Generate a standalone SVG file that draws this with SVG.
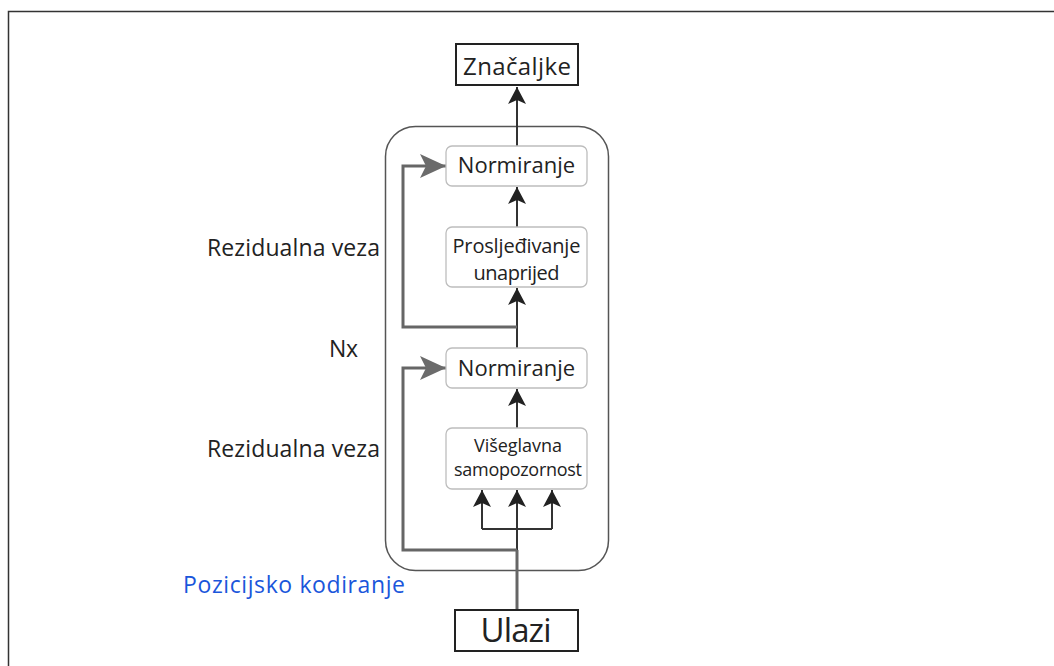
<svg xmlns="http://www.w3.org/2000/svg" width="1054" height="666" viewBox="0 0 1054 666">
  <style>
    text { font-family: "Open Sans", "Noto Sans", sans-serif; fill: #222; }
    .frame { fill: none; stroke: #333; stroke-width: 1.5; }
    .io { fill: #fff; stroke: #222; stroke-width: 2; }
    .blk { fill: #fff; stroke: #bdbdbd; stroke-width: 1.3; }
    .stack { fill: none; stroke: #555; stroke-width: 1.5; }
    .flow { fill: none; stroke: #333; stroke-width: 2; }
    .res { fill: none; stroke: #666; stroke-width: 3; }
    .lbl { font-size: 23px; }
    .blue { fill: #1a56db; }
  </style>
  <defs>
    <marker id="ah" viewBox="0 0 17 18" refX="17" refY="9" markerWidth="17" markerHeight="18" markerUnits="userSpaceOnUse" orient="auto">
      <path d="M0,0 L17,9 L0,18 L4,9 Z" fill="#222"/>
    </marker>
    <marker id="ahg" viewBox="0 0 26 24" refX="26" refY="12" markerWidth="26" markerHeight="24" markerUnits="userSpaceOnUse" orient="auto">
      <path d="M0,0 L26,12 L0,24 L6,12 Z" fill="#6b6b6b"/>
    </marker>
  </defs>

  <!-- page frame -->
  <path class="frame" d="M8.5,666 V11.5 H1054"/>

  <!-- repeated encoder stack -->
  <rect id="stack" class="stack" x="385.5" y="126.5" width="223" height="444" rx="30"/>

  <!-- connectors -->
  <g id="connectors">
    <path class="flow" d="M517,146 V87" marker-end="url(#ah)"/>
    <path class="flow" d="M517,227 V187" marker-end="url(#ah)"/>
    <path class="flow" d="M517,348 V288" marker-end="url(#ah)"/>
    <path class="flow" d="M517,428 V389" marker-end="url(#ah)"/>
    <path class="flow" d="M482,529 H552"/>
    <path class="flow" d="M482,529 V490" marker-end="url(#ah)"/>
    <path class="flow" d="M517,550 V490" marker-end="url(#ah)"/>
    <path class="flow" d="M552,529 V490" marker-end="url(#ah)"/>
    <path class="res" d="M517,610 V550"/>
    <path class="res" d="M517,550 H403 V368 H446" marker-end="url(#ahg)"/>
    <path class="res" d="M517,327 H403 V166 H446" marker-end="url(#ahg)"/>
  </g>

  <g id="features">
    <rect class="io" x="456" y="44" width="122" height="41"/>
    <text x="517" y="75" font-size="24" text-anchor="middle" textLength="108">Značaljke</text>
  </g>

  <g id="norm2">
    <rect class="blk" x="446" y="146" width="141" height="40" rx="6"/>
    <text x="516.5" y="173" font-size="22" text-anchor="middle">Normiranje</text>
  </g>

  <g id="feedforward">
    <rect class="blk" x="446" y="227" width="141" height="60" rx="6"/>
    <text x="516.5" y="253" font-size="20" text-anchor="middle" textLength="128">Prosljeđivanje</text>
    <text x="516.5" y="280" font-size="20" text-anchor="middle" textLength="86">unaprijed</text>
  </g>

  <g id="norm1">
    <rect class="blk" x="446" y="348" width="141" height="40" rx="6"/>
    <text x="516.5" y="376" font-size="22" text-anchor="middle">Normiranje</text>
  </g>

  <g id="attention">
    <rect class="blk" x="446" y="428" width="141" height="61" rx="6"/>
    <text x="518" y="452" font-size="18" text-anchor="middle" textLength="88">Višeglavna</text>
    <text x="518" y="476" font-size="18" text-anchor="middle" textLength="128">samopozornost</text>
  </g>

  <g id="inputs">
    <rect class="io" x="455" y="610" width="123" height="41"/>
    <text x="516" y="642" font-size="33" text-anchor="middle" textLength="71">Ulazi</text>
  </g>

  <g id="labels">
    <text class="lbl" x="380" y="256" text-anchor="end" textLength="173">Rezidualna veza</text>
    <text class="lbl" x="329" y="357" textLength="29">Nx</text>
    <text class="lbl" x="380" y="457" text-anchor="end" textLength="173">Rezidualna veza</text>
    <text class="lbl blue" x="183" y="593" font-size="25" textLength="222">Pozicijsko kodiranje</text>
  </g>
</svg>
